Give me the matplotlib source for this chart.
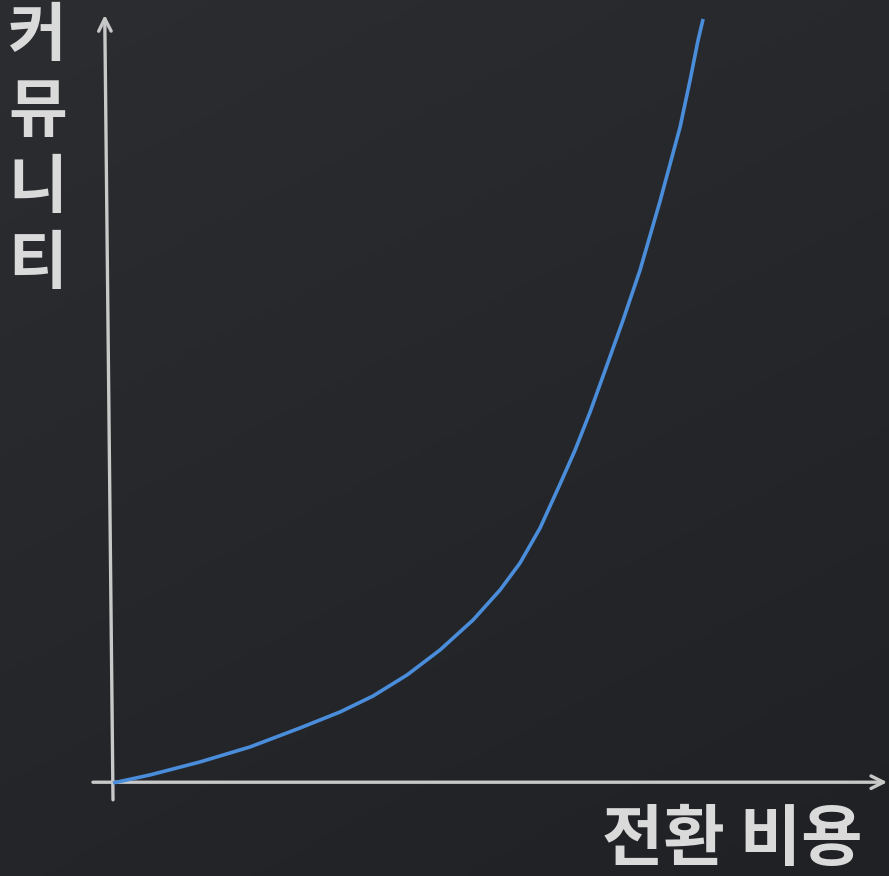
import matplotlib
matplotlib.use("Agg")
import matplotlib.pyplot as plt
import numpy as np

plt.rcParams["font.family"] = ["Noto Sans CJK KR", "DejaVu Sans"]

# 곡선 데이터 (전환 비용 vs 커뮤니티), 그림에서 읽은 값
switch_cost = [0.0, 0.627, 1.475, 2.322, 3.169, 3.847, 4.407, 4.983, 5.542,
               6.102, 6.559, 6.898, 7.237, 7.576, 7.831, 8.085, 8.390, 8.644,
               8.932, 9.271, 9.610, 9.780, 9.915, 10.0]
community = [0.0, 0.105, 0.275, 0.471, 0.719, 0.928, 1.137, 1.412, 1.739,
             2.131, 2.523, 2.876, 3.333, 3.908, 4.353, 4.850, 5.503, 6.052,
             6.706, 7.608, 8.575, 9.190, 9.712, 9.987]

x_label = "전환 비용"
y_label = "커뮤니티"

COLORS = {
    "bg_top": "#2c2d30",
    "bg_bottom": "#202124",
    "axis": "#c8c8c8",
    "text": "#dadada",
    "curve": "#4a8ddb",
}

fig = plt.figure(figsize=(8.89, 8.76), dpi=100)
ax = fig.add_axes([0, 0, 1, 1])
ax.set_xlim(-1.915, 13.15)
ax.set_ylim(-1.216, 10.235)
ax.axis("off")

# 배경 그라데이션 (좌상단 → 우하단)
gx, gy = np.meshgrid(np.linspace(0, 1, 200), np.linspace(0, 1, 200))
grad = 0.35 * gx + 0.65 * gy
c0 = np.array(matplotlib.colors.to_rgb(COLORS["bg_top"]))
c1 = np.array(matplotlib.colors.to_rgb(COLORS["bg_bottom"]))
img = c0[None, None, :] * (1 - grad[..., None]) + c1[None, None, :] * grad[..., None]
ax.imshow(img, extent=[-1.915, 13.15, -1.216, 10.235], aspect="auto", zorder=0)

# 축 화살표
arrow = dict(arrowstyle="->,head_length=0.9,head_width=0.45",
             color=COLORS["axis"], lw=2.4, shrinkA=0, shrinkB=0)
ax.annotate("", xy=(13.12, 0.01), xytext=(-0.34, 0.01), arrowprops=arrow, zorder=2)
ax.annotate("", xy=(-0.14, 10.04), xytext=(0.0, -0.22), arrowprops=arrow, zorder=2)

# 곡선
ax.plot(switch_cost, community, color=COLORS["curve"], lw=2.6,
        solid_capstyle="butt", solid_joinstyle="round", zorder=3)

# 라벨
ax.text(0.970, 0.002, x_label, transform=ax.transAxes, ha="right", va="bottom",
        fontsize=48, fontweight="bold", color=COLORS["text"])
for i, ch in enumerate(y_label):
    ax.text(0.042, 1 - (36 + i * 76) / 876, ch, transform=ax.transAxes,
            ha="center", va="center", fontsize=46, fontweight="bold",
            color=COLORS["text"])

fig.savefig("out.png", dpi=100, facecolor=COLORS["bg_top"])
